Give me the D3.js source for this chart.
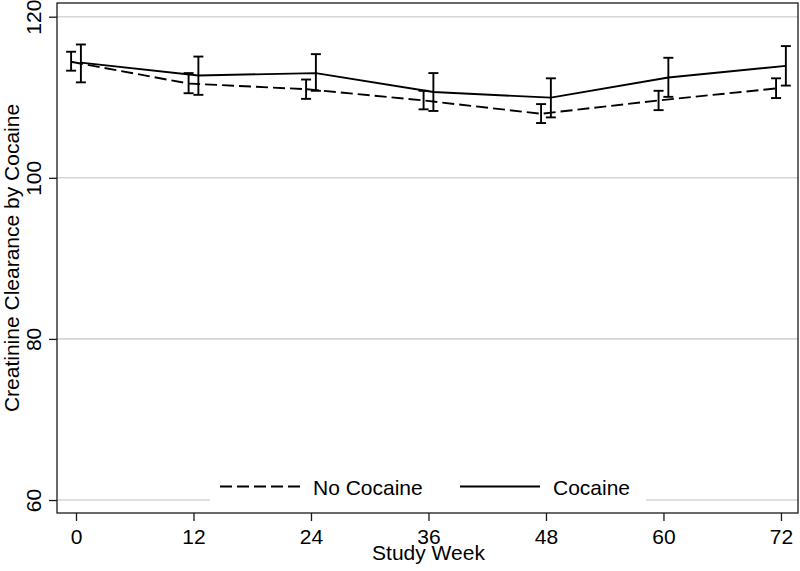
<!DOCTYPE html>
<html>
<head>
<meta charset="utf-8">
<script src="https://cdn.jsdelivr.net/npm/d3@7"></script>
<style>
  html, body { margin: 0; padding: 0; background: #fff; }
  svg { display: block; font-family: "Liberation Sans", Arial, Helvetica, sans-serif; }
</style>
</head>
<body>
<svg id="chart" width="800" height="571"></svg>
<script>
// ---- data ----
const weeks = [0, 12, 24, 36, 48, 60, 72];
const xTicks = [0, 12, 24, 36, 48, 60, 72];
const yTicks = [60, 80, 100, 120];

const noCocaineMean  = [114.4, 111.7, 111.0, 109.6, 107.95, 109.6, 111.1];
const noCocaineLower = [113.3, 110.5, 109.8, 108.5, 106.8, 108.4, 109.9];
const noCocaineUpper = [115.65, 113.0, 112.2, 110.8, 109.15, 110.8, 112.35];

const cocaineMean  = [114.3, 112.7, 113.0, 110.65, 109.95, 112.45, 113.9];
const cocaineLower = [111.85, 110.3, 110.8, 108.3, 107.5, 110.05, 111.45];
const cocaineUpper = [116.55, 115.05, 115.35, 113.0, 112.35, 114.9, 116.35];

const seriesNames = ["No Cocaine", "Cocaine"];
const xTitle = "Study Week";
const yTitle = "Creatinine Clearance by Cocaine";

// ---- layout ----
const L = 57, R = 798, T = 3, B = 513;
const svg = d3.select("#chart");

const x = d3.scaleLinear().domain([-1.94, 73.74]).range([L, R]);
const y = d3.scaleLinear().domain([58.39, 121.7]).range([B, T]);

const axisColor = "#1a1a1a";
const fontSize = 21;

// gridlines
svg.append("g").selectAll("line").data(yTicks).join("line")
  .attr("x1", L).attr("x2", R)
  .attr("y1", d => y(d)).attr("y2", d => y(d))
  .attr("stroke", "#d6d6d6").attr("stroke-width", 1.6);

// series
const series = [
  { name: seriesNames[0], mean: noCocaineMean, lo: noCocaineLower, hi: noCocaineUpper, off: -0.5, dash: "12,5" },
  { name: seriesNames[1], mean: cocaineMean, lo: cocaineLower, hi: cocaineUpper, off: 0.5, dash: null }
];

const line = d3.line().x(d => x(d.w)).y(d => y(d.v));

series.forEach(s => {
  const pts = weeks.map((w, i) => ({ w: w + s.off, v: s.mean[i], lo: s.lo[i], hi: s.hi[i] }));
  svg.append("path").datum(pts)
    .attr("d", line)
    .attr("fill", "none")
    .attr("stroke", "#000")
    .attr("stroke-width", 1.9)
    .attr("stroke-dasharray", s.dash);
  const g = svg.append("g").attr("stroke", "#000").attr("stroke-width", 1.9);
  g.selectAll("line.v").data(pts).join("line").attr("class", "v")
    .attr("x1", d => x(d.w)).attr("x2", d => x(d.w))
    .attr("y1", d => y(d.lo)).attr("y2", d => y(d.hi));
  g.selectAll("line.t").data(pts).join("line").attr("class", "t")
    .attr("x1", d => x(d.w) - 5).attr("x2", d => x(d.w) + 5)
    .attr("y1", d => y(d.hi)).attr("y2", d => y(d.hi));
  g.selectAll("line.b").data(pts).join("line").attr("class", "b")
    .attr("x1", d => x(d.w) - 5).attr("x2", d => x(d.w) + 5)
    .attr("y1", d => y(d.lo)).attr("y2", d => y(d.lo));
});

// legend (inside plot, white background)
const lg = svg.append("g");
lg.append("rect").attr("x", 210).attr("y", 468).attr("width", 436).attr("height", 38).attr("fill", "#fff");
const legendItems = [
  { name: seriesNames[0], x0: 220, x1: 300, tx: 313, dash: "12,5" },
  { name: seriesNames[1], x0: 460, x1: 540, tx: 553, dash: null }
];
legendItems.forEach(it => {
  lg.append("line").attr("x1", it.x0).attr("x2", it.x1).attr("y1", 486.5).attr("y2", 486.5)
    .attr("stroke", "#000").attr("stroke-width", 1.9).attr("stroke-dasharray", it.dash);
  lg.append("text").attr("x", it.tx).attr("y", 494.5).attr("font-size", fontSize)
    .attr("fill", "#000").text(it.name);
});

// frame
svg.append("rect").attr("x", L).attr("y", T).attr("width", R - L).attr("height", B - T)
  .attr("fill", "none").attr("stroke", axisColor).attr("stroke-width", 1.3);

// x axis
const xAxis = d3.axisBottom(x).tickValues(xTicks).tickSize(8).tickPadding(6).tickFormat(d3.format("d"));
const gx = svg.append("g").attr("transform", `translate(0,${B})`).call(xAxis);
gx.select(".domain").remove();
gx.selectAll(".tick line").attr("stroke", axisColor).attr("stroke-width", 1.3);
gx.selectAll(".tick text").attr("font-size", fontSize).attr("fill", "#000")
  .attr("font-family", "Liberation Sans, Arial, sans-serif")
  .attr("dy", null).attr("y", 30.5);

// y axis
const yAxis = d3.axisLeft(y).tickValues(yTicks).tickSize(8).tickFormat(d3.format("d"));
const gy = svg.append("g").attr("transform", `translate(${L},0)`).call(yAxis);
gy.select(".domain").remove();
gy.selectAll(".tick line").attr("stroke", axisColor).attr("stroke-width", 1.3);
gy.selectAll(".tick text").attr("font-size", fontSize).attr("fill", "#000")
  .attr("font-family", "Liberation Sans, Arial, sans-serif")
  .attr("x", null).attr("dy", null)
  .attr("text-anchor", "middle")
  .attr("transform", `translate(${41 - L},0) rotate(-90)`);

// titles
svg.append("text").attr("x", (x(0) + x(72)) / 2).attr("y", 559.5)
  .attr("text-anchor", "middle").attr("font-size", fontSize).attr("fill", "#000").text(xTitle);
svg.append("text")
  .attr("transform", `translate(18.5,${(T + B) / 2}) rotate(-90)`)
  .attr("text-anchor", "middle").attr("font-size", fontSize).attr("fill", "#000").text(yTitle);
</script>
</body>
</html>
